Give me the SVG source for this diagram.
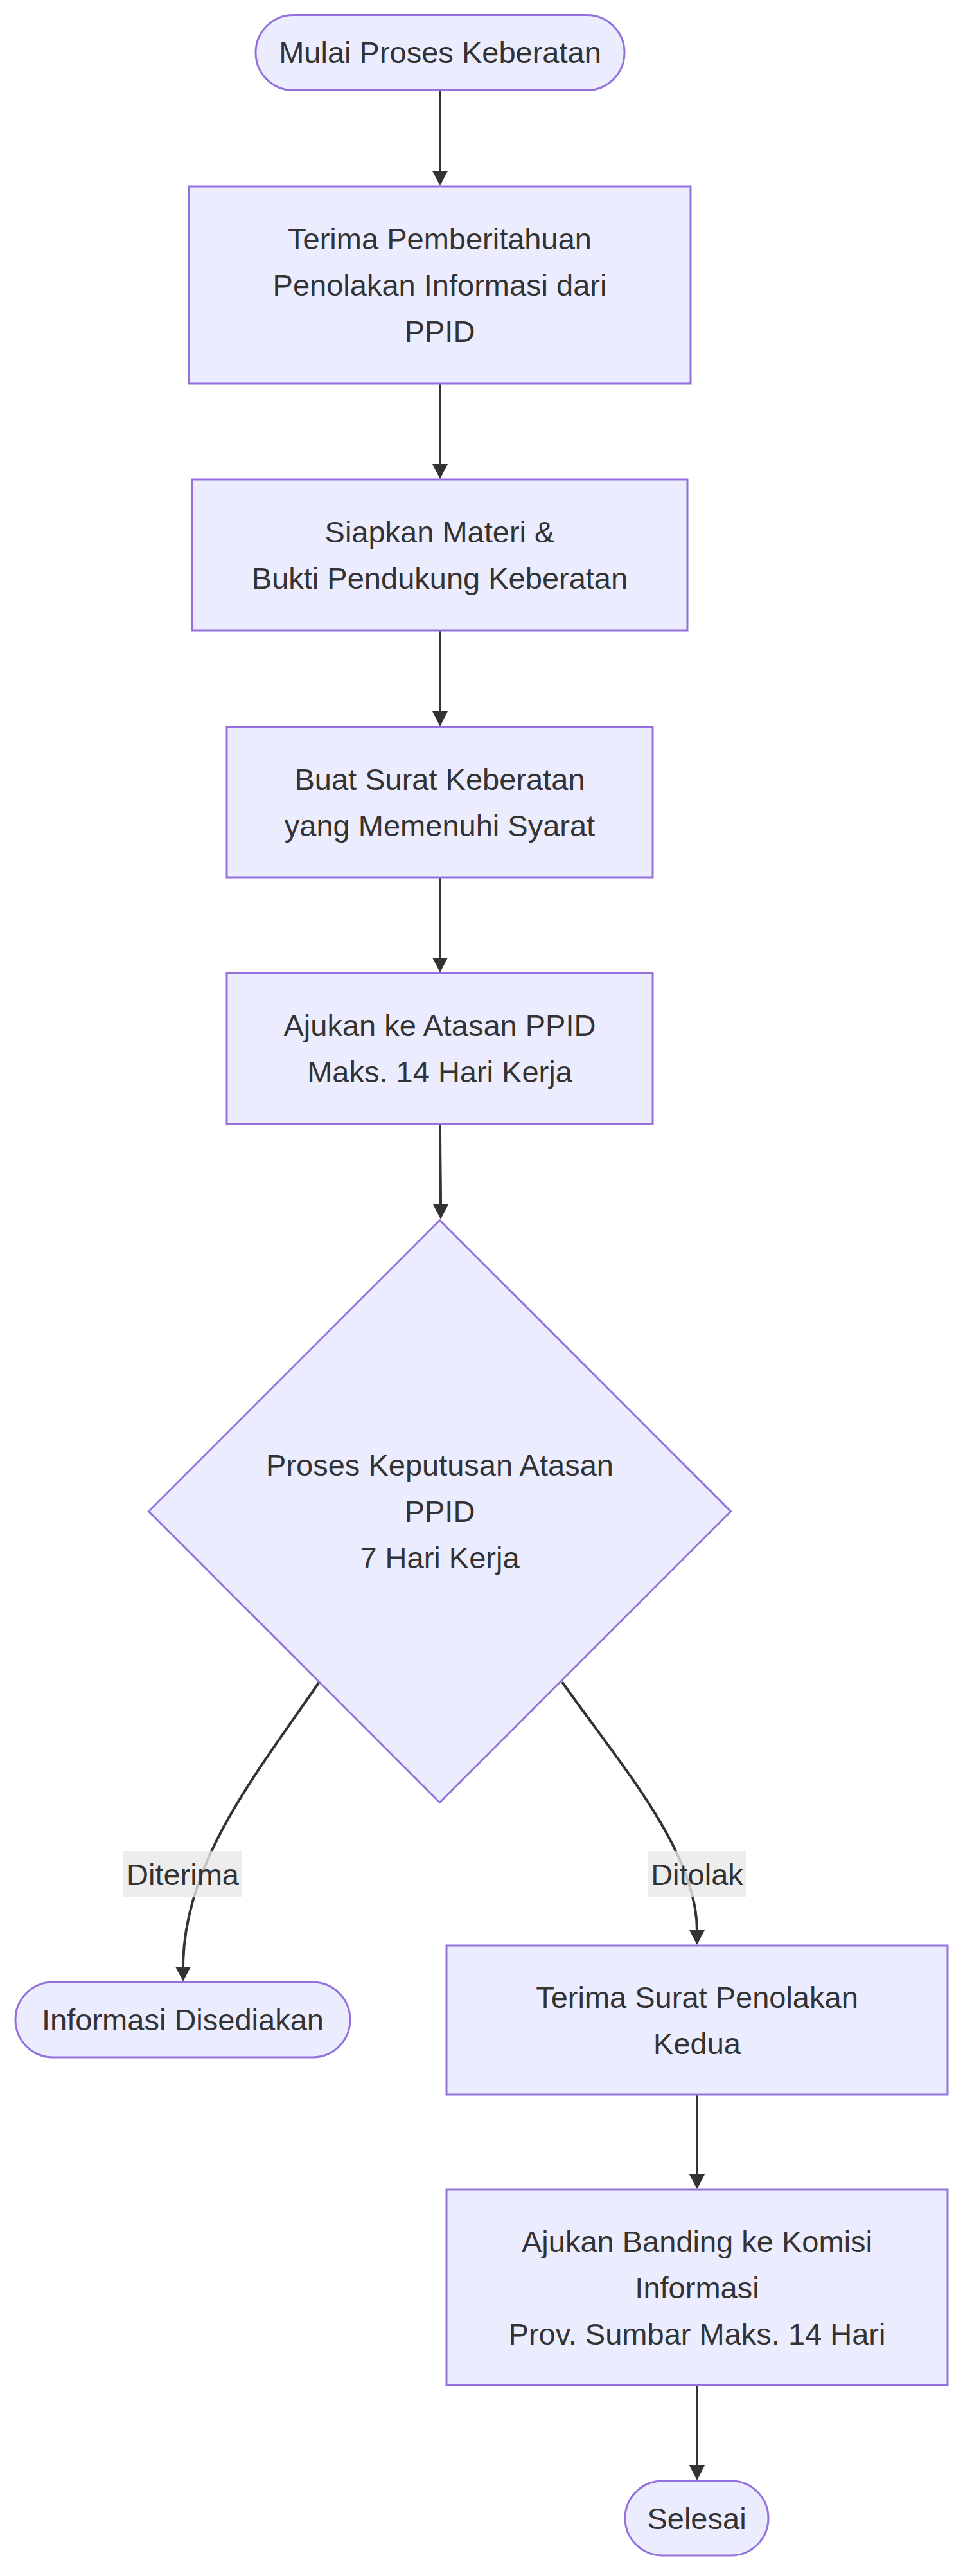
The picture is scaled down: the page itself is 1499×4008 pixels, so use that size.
<svg xmlns="http://www.w3.org/2000/svg" width="1499" height="4008" viewBox="0 0 1499 4008">
<style>
.node{fill:#ECECFF;stroke:#9370DB;stroke-width:3}
.t{font-family:"Liberation Sans",Arial,sans-serif;font-size:47px;fill:#333333;text-anchor:middle}
.edge{fill:none;stroke:#333333;stroke-width:4}
.lbl{fill:#e8e8e8;fill-opacity:0.8}
</style>
<defs>
<marker id="arrow" markerUnits="userSpaceOnUse" viewBox="0 0 23 24" markerWidth="23" markerHeight="24" refX="1" refY="12" orient="auto">
<path d="M0,0 L23,12 L0,24 z" fill="#333333"/>
</marker>
</defs>
<rect width="1499" height="4008" fill="#ffffff"/>
<g id="edges">
<path class="edge" d="M685,141 L685,267" marker-end="url(#arrow)"/>
<path class="edge" d="M685,597 L685,723" marker-end="url(#arrow)"/>
<path class="edge" d="M685,981 L685,1108" marker-end="url(#arrow)"/>
<path class="edge" d="M685,1365 L685,1491" marker-end="url(#arrow)"/>
<path class="edge" d="M685,1749 C685,1800 686,1840 686,1875" marker-end="url(#arrow)"/>
<path class="edge" d="M497,2617 C395,2765 285,2900 285,3061" marker-end="url(#arrow)"/>
<path class="edge" d="M875,2617 C965,2745 1085,2880 1085,3004" marker-end="url(#arrow)"/>
<path class="edge" d="M1085,3259 L1085,3384" marker-end="url(#arrow)"/>
<path class="edge" d="M1085,3711 L1085,3837" marker-end="url(#arrow)"/>
<g id="label-diterima">
<rect class="lbl" x="192" y="2880" width="185" height="72"/>
<text class="t" x="284.5" y="2932.5">Diterima</text>
</g>
<g id="label-ditolak">
<rect class="lbl" x="1009" y="2880" width="152" height="72"/>
<text class="t" x="1085" y="2932.5">Ditolak</text>
</g>
</g>
<g id="start">
<rect class="node" x="398" y="23.5" width="574" height="117" rx="58.5" ry="58.5"/>
<text class="t" x="685" y="98">Mulai Proses Keberatan</text>
</g>
<g id="terima">
<rect class="node" x="294" y="290" width="781" height="307"/>
<text class="t" x="684.5" y="387.5">Terima Pemberitahuan</text>
<text class="t" x="684.5" y="459.5">Penolakan Informasi dari</text>
<text class="t" x="684.5" y="531.5">PPID</text>
</g>
<g id="siapkan">
<rect class="node" x="299" y="746" width="771" height="235"/>
<text class="t" x="684.5" y="844">Siapkan Materi &amp;</text>
<text class="t" x="684.5" y="916">Bukti Pendukung Keberatan</text>
</g>
<g id="buat">
<rect class="node" x="353" y="1131" width="663" height="234"/>
<text class="t" x="684.5" y="1228.5">Buat Surat Keberatan</text>
<text class="t" x="684.5" y="1300.5">yang Memenuhi Syarat</text>
</g>
<g id="ajukan">
<rect class="node" x="353" y="1514" width="663" height="235"/>
<text class="t" x="684.5" y="1612">Ajukan ke Atasan PPID</text>
<text class="t" x="684.5" y="1684">Maks. 14 Hari Kerja</text>
</g>
<g id="keputusan">
<polygon class="node" points="684.5,1898.5 1137.5,2351.5 684.5,2804.5 231.5,2351.5"/>
<text class="t" x="684.5" y="2295.5">Proses Keputusan Atasan</text>
<text class="t" x="684.5" y="2367.5">PPID</text>
<text class="t" x="684.5" y="2439.5">7 Hari Kerja</text>
</g>
<g id="disediakan">
<rect class="node" x="24" y="3084" width="521" height="117" rx="58.5" ry="58.5"/>
<text class="t" x="284.5" y="3159">Informasi Disediakan</text>
</g>
<g id="penolakan2">
<rect class="node" x="695" y="3027" width="780" height="232"/>
<text class="t" x="1085" y="3123.5">Terima Surat Penolakan</text>
<text class="t" x="1085" y="3195.5">Kedua</text>
</g>
<g id="banding">
<rect class="node" x="695" y="3407" width="780" height="304"/>
<text class="t" x="1085" y="3503.5">Ajukan Banding ke Komisi</text>
<text class="t" x="1085" y="3575.5">Informasi</text>
<text class="t" x="1085" y="3647.5">Prov. Sumbar Maks. 14 Hari</text>
</g>
<g id="selesai">
<rect class="node" x="973" y="3860" width="223" height="116" rx="58" ry="58"/>
<text class="t" x="1084.5" y="3934.5">Selesai</text>
</g>
</svg>
